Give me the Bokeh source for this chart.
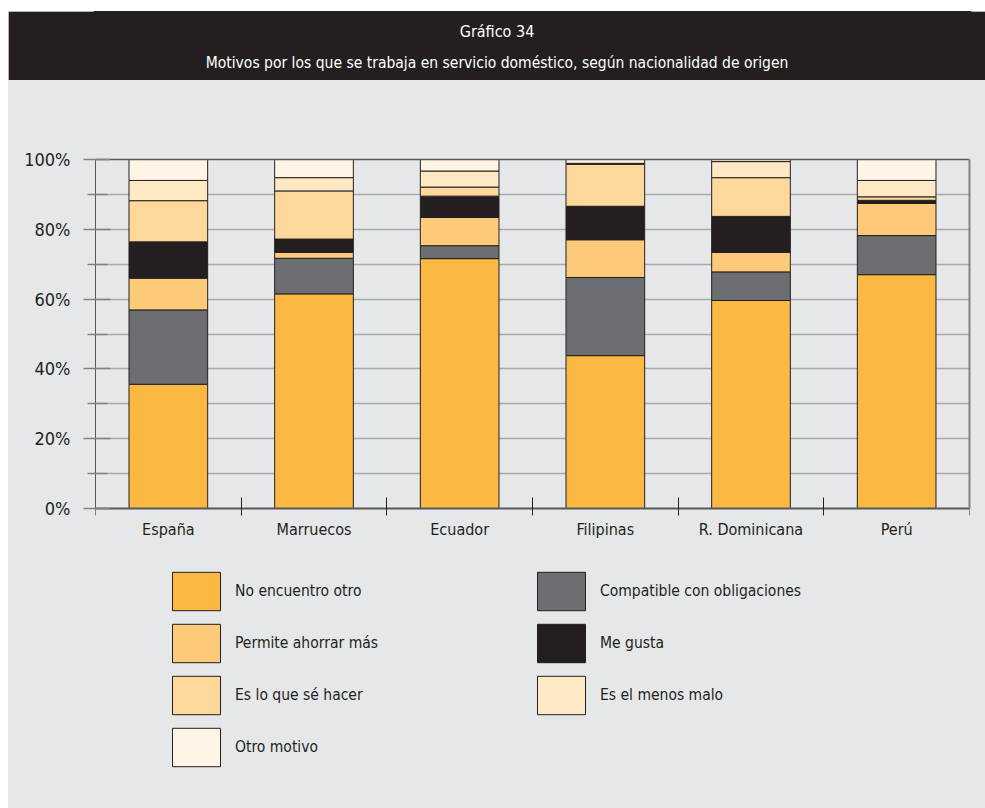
from bokeh.plotting import figure
from bokeh.layouts import column
from bokeh.models import (ColumnDataSource, Range1d, FixedTicker, PrintfTickFormatter,
                          Legend, LegendItem, Label, LinearAxis)
from bokeh.embed import file_html
from bokeh.resources import INLINE

categories = ["España", "Marruecos", "Ecuador", "Filipinas", "R. Dominicana", "Perú"]
series_names = ["No encuentro otro", "Compatible con obligaciones", "Permite ahorrar más",
                "Me gusta", "Es lo que sé hacer", "Es el menos malo", "Otro motivo"]
no_encuentro = [35.6, 61.5, 71.6, 43.8, 59.6, 67.0]
compatible = [21.3, 10.2, 3.7, 22.4, 8.2, 11.2]
permite = [9.1, 1.7, 8.1, 10.8, 5.6, 9.2]
me_gusta = [10.4, 3.8, 6.1, 9.6, 10.3, 0.9]
es_lo_que = [11.8, 13.8, 2.6, 12.0, 11.1, 1.0]
menos_malo = [5.8, 3.8, 4.6, 0.3, 4.6, 4.7]
otro = [6.0, 5.2, 3.3, 1.1, 0.6, 6.0]
colors = ["#FBB843", "#6D6E71", "#FDCA7A", "#231F20", "#FED89B", "#FFE8C4", "#FFF5E6"]
y_ticks = [0, 20, 40, 60, 80, 100]
title_text = "Gráfico 34"
subtitle_text = "Motivos por los que se trabaja en servicio doméstico, según nacionalidad de origen"

FONT = "'Liberation Sans Narrow', 'DejaVu Sans Condensed', sans-serif"
DARK = "#231F20"
BG = "#E6E7E8"
AXIS = "#58595B"

FRAME_W = 874
LEFT = 87
RIGHT = 16
TOP = 79
BOTTOM = 40
FRAME_H = 609      # chart area + legend area below it
CHART_H = 349      # pixels spanned by 0..100 %
Y_MIN = -100.0 * (FRAME_H - CHART_H) / CHART_H

keys = ["s%d" % i for i in range(len(series_names))]
data = dict(x=list(range(len(categories))))
for k, vals in zip(keys, [no_encuentro, compatible, permite, me_gusta, es_lo_que, menos_malo, otro]):
    data[k] = vals
source = ColumnDataSource(data)

# Title bar
t = figure(frame_width=FRAME_W, frame_height=69, x_range=Range1d(0, FRAME_W), y_range=Range1d(0, 69),
           output_backend="svg", toolbar_location=None,
           min_border_left=LEFT, min_border_right=RIGHT, min_border_top=0, min_border_bottom=0)
t.axis.visible = False
t.grid.visible = False
t.outline_line_color = DARK
t.outline_line_width = 4
t.background_fill_color = DARK
t.border_fill_color = DARK
cx = (LEFT + FRAME_W + RIGHT) / 2 - LEFT
t.add_layout(Label(x=cx, y=49, text=title_text, text_align="center", text_baseline="middle",
                   text_color="white", text_font=FONT, text_font_size="16px"))
t.add_layout(Label(x=cx, y=18, text=subtitle_text, text_align="center", text_baseline="middle",
                   text_color="white", text_font=FONT, text_font_size="15.5px"))

# Chart
p = figure(frame_width=FRAME_W, frame_height=FRAME_H, x_range=Range1d(-0.5, len(categories) - 0.5),
           y_range=Range1d(Y_MIN, 100), output_backend="svg", toolbar_location=None,
           min_border_left=LEFT, min_border_right=RIGHT, min_border_top=TOP, min_border_bottom=BOTTOM)
p.background_fill_color = BG
p.background_fill_alpha = 0
p.border_fill_color = BG
p.outline_line_color = None

renderers = p.vbar_stack(keys, x="x", width=0.54, source=source, fill_color=colors,
                         line_color=DARK, line_width=1)

p.xgrid.visible = False
p.ygrid.ticker = FixedTicker(ticks=list(range(10, 100, 10)))
p.ygrid.grid_line_color = "#A7A9AC"
p.ygrid.grid_line_width = 1.5

xa = p.xaxis[0]
xa.fixed_location = 0
xa.ticker = FixedTicker(ticks=list(range(len(categories))),
                        minor_ticks=[i - 0.5 for i in range(len(categories) + 1)])
xa.major_label_overrides = {i: c for i, c in enumerate(categories)}
xa.major_tick_in = 0
xa.major_tick_out = 0
xa.minor_tick_in = 11
xa.minor_tick_out = 7
xa.minor_tick_line_color = DARK
xa.axis_line_color = AXIS
xa.axis_line_width = 2
xa.major_label_standoff = 4
xa.major_label_text_font = FONT
xa.major_label_text_font_size = "16px"
xa.major_label_text_color = DARK

ya = p.yaxis[0]
ya.bounds = (0, 100)
ya.ticker = FixedTicker(ticks=y_ticks, minor_ticks=[10, 30, 50, 70, 90])
ya.formatter = PrintfTickFormatter(format="%d%%")
ya.major_tick_in = 15
ya.major_tick_out = 12
ya.minor_tick_in = 12
ya.minor_tick_out = 8
ya.major_tick_line_color = "#808285"
ya.minor_tick_line_color = "#808285"
ya.major_tick_line_width = 1.5
ya.minor_tick_line_width = 1.5
ya.axis_line_color = AXIS
ya.major_label_standoff = 13
ya.major_label_text_font = FONT
ya.major_label_text_font_size = "18px"
ya.major_label_text_color = DARK

# frame lines at 100 % (top) and on the right
top_axis = LinearAxis(ticker=FixedTicker(ticks=[]), axis_line_color=AXIS, axis_line_width=1.5,
                      major_tick_in=0, major_tick_out=0, minor_tick_in=0, minor_tick_out=0)
p.add_layout(top_axis, "above")
right_axis = LinearAxis(ticker=FixedTicker(ticks=[]), bounds=(0, 100), axis_line_color="#808285",
                        axis_line_width=2, major_tick_in=0, major_tick_out=0,
                        minor_tick_in=0, minor_tick_out=0)
p.add_layout(right_axis, "right")

items = [LegendItem(label=n, renderers=[r]) for n, r in zip(series_names, renderers)]
legend = Legend(items=items, orientation="horizontal", ncols=2, location=(71, -3),
                glyph_width=60, glyph_height=48, spacing=4, label_standoff=9,
                label_width=292, padding=0, margin=0,
                background_fill_alpha=0, border_line_alpha=0,
                label_text_font=FONT, label_text_font_size="15.5px", label_text_color=DARK)
p.add_layout(legend, "center")

layout = column(t, p, spacing=0, margin=(11, 0, 0, 8), styles={"background-color": BG})
open("out.html", "w").write(file_html(layout, INLINE))
